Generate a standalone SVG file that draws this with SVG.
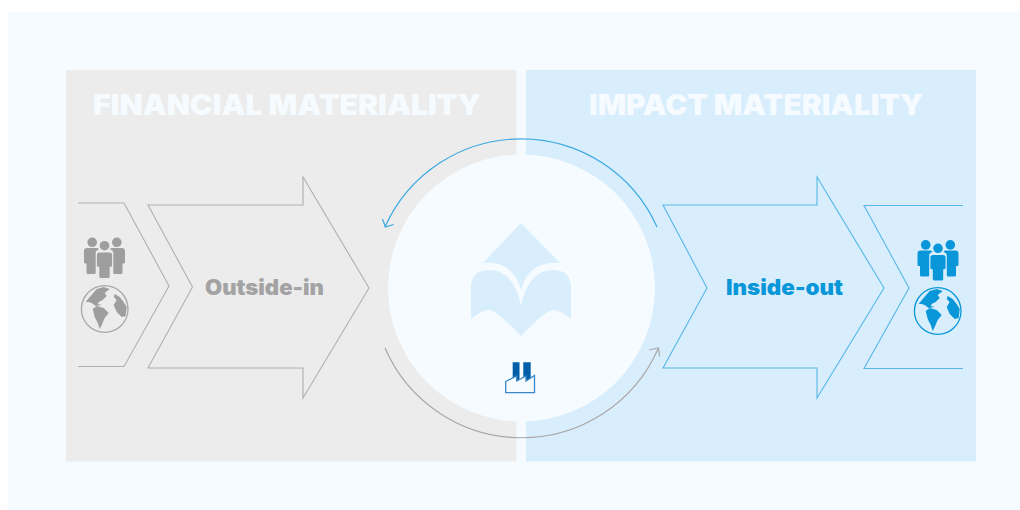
<svg xmlns="http://www.w3.org/2000/svg" width="1020" height="510" viewBox="0 0 1020 510">
<style>
.head{font-family:"Inter","Liberation Sans",sans-serif;font-weight:900;font-size:28px;fill:#f5fbff}
.lab{font-family:"Inter","Liberation Sans",sans-serif;font-weight:900;font-size:21px}
.g{fill:none;stroke:#b0b0b0;stroke-width:1.100}
.b{fill:none;stroke:#58b7e8;stroke-width:1.100}
.arcb{fill:none;stroke:#3ba8e0;stroke-width:1.200}
.arcg{fill:none;stroke:#a8a8a8;stroke-width:1.200}
</style>
<defs>
<g id="people">
<circle cx="-12.300" cy="-3.400" r="4.800"/><circle cx="12.300" cy="-3.400" r="4.800"/>
<path d="M-17.500 2.300Q-20.500 2.300-20.500 5.500V16.500Q-20.500 17.800-19 17.800H-18V27Q-18 28.300-16.500 28.300H-10Q-8.800 28.300-8.800 27V6.500Q-8.800 5-5.500 3.500Q-6 2.300-8 2.300Z"/>
<path d="M17.500 2.300Q20.500 2.300 20.500 5.500V16.500Q20.500 17.800 19 17.800H18V27Q18 28.300 16.500 28.300H10Q8.800 28.300 8.800 27V6.500Q8.800 5 5.500 3.500Q6 2.300 8 2.300Z"/>
<circle cx="0" cy="0" r="4.800"/>
<path d="M-5 6.800H5Q7.600 6.800 7.600 9.500V19.500Q7.600 21 6 21H5.200V30.800Q5.200 32.300 3.500 32.300H-3.500Q-5.200 32.300-5.200 30.800V21H-6Q-7.600 21-7.600 19.500V9.500Q-7.600 6.800-5 6.800Z"/>
</g>
<g id="globe">
<circle r="23.300" fill="none" stroke-width="1.300" stroke="currentColor"/>
<path d="M-19-7-15-12-8-20-1-22 5-20 0-16 2-13-2-9-6-7-7-5-3-4-9-3-13-6-16-7Z"/>
<path d="M-12 0-8-3-1-1 4 4 0 9-3 16-5 20-7 14-10 8Z"/>
<path d="M10-15 15-12 19-7 22-2 21 7 17 8 12 3 9-4 12-9 9-12Z"/>
</g>
</defs>
<rect width="1020" height="510" fill="#ffffff"/>
<rect id="background" x="8" y="12" width="1012" height="498" fill="#f5fbff"/>
<g id="financial-panel">
<rect x="66" y="70" width="450.500" height="391.500" fill="#ececec"/>
<text class="head" x="93" y="115" textLength="388" lengthAdjust="spacingAndGlyphs">FINANCIAL MATERIALITY</text>
</g>
<g id="impact-panel">
<rect x="526" y="70" width="450" height="391.500" fill="#d9eefd"/>
<text class="head" x="589" y="115" textLength="334" lengthAdjust="spacingAndGlyphs">IMPACT MATERIALITY</text>
</g>
<g id="centre-circle">
<circle cx="521.500" cy="288" r="133.500" fill="#f5fbff"/>
</g>
<g id="logo" fill="#d9eefd">
<path d="M521 223 560 263Q529 260 521 290Q513 260 483 263Z"/>
<path d="M471 319V288Q471 270 489 270Q513 270 521 305Q529 270 553 270Q571 270 571 288V319Q560 310 553 310Q546 310 521 336Q496 310 489 310Q482 310 471 319Z"/>
</g>
<g id="connectors">
<path class="arcb" d="M657 227A149 149 0 0 0 385 227"/>
<path class="arcb" d="M382.500 219 385.500 227 393.500 224.500"/>
<path class="arcg" d="M385 348A149 149 0 0 0 658 349"/>
<path class="arcg" d="M649 350 658.500 348 659.500 356.500"/>
</g>
<g id="chevron-left-outer"><path class="g" d="M78 203H124L169 286 124 366.500H78"/></g>
<g id="chevron-outside-in">
<path class="g" d="M148 205H303V177L369 288 303 398V368H148L192.500 287Z"/>
<text class="lab" x="205" y="295" textLength="119" lengthAdjust="spacingAndGlyphs" fill="#a3a3a3">Outside-in</text>
</g>
<g id="chevron-inside-out">
<path class="b" d="M663 205H817V177L884 288 817 398V368H663L707 288Z"/>
<text class="lab" x="726" y="295" textLength="117" lengthAdjust="spacingAndGlyphs" fill="#0a97d9">Inside-out</text>
</g>
<g id="chevron-right-outer"><path class="b" d="M963 205.500H864L909 288 864 368.500H963"/></g>
<g id="people-left" fill="#9e9e9e"><use href="#people" x="104.500" y="245.700"/></g>
<g id="globe-left" fill="#9e9e9e" color="#a8a8a8"><use href="#globe" x="104.700" y="309"/></g>
<g id="people-right" fill="#0a97d9"><use href="#people" x="938" y="248.300"/></g>
<g id="globe-right" fill="#0a97d9" color="#0a97d9"><use href="#globe" x="937.700" y="311"/></g>
<g id="factory">
<path fill="#005fa8" d="M512.700 362.300H519.500V381H512.700ZM523.300 362.300H530.700V381H523.300Z"/>
<path fill="#f5fbff" stroke="#3a86c8" stroke-width="1.300" d="M505.700 381.500 516.700 376V381L526 376V381L534.500 375.500V392.700H505.700Z"/>
</g>
</svg>
